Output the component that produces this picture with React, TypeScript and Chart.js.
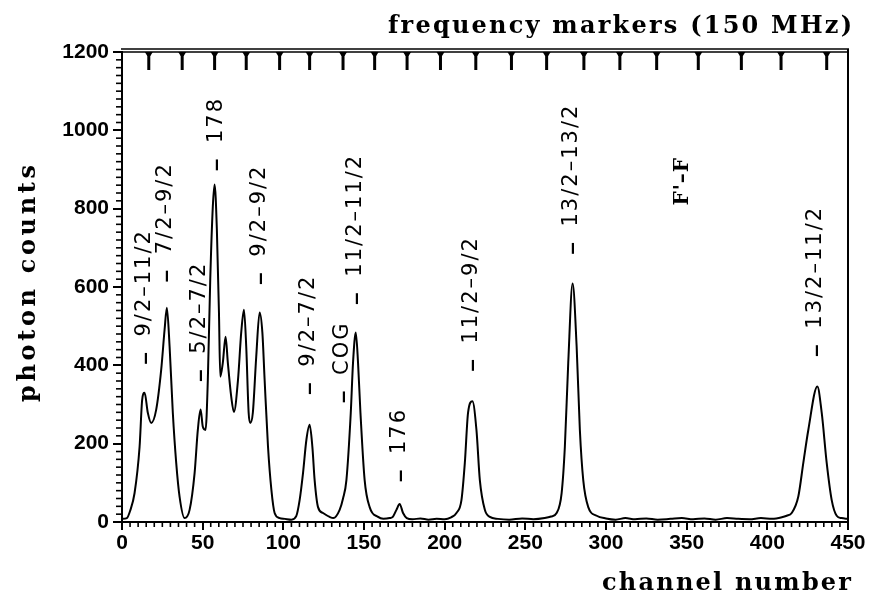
import React, { useEffect, useRef } from "react";
import { Chart, registerables } from "chart.js";

Chart.register(...registerables);

// ---- data ----
const channels = [
  0, 3, 5, 7.8, 10.9, 12.5, 14.0, 16.0, 18.1, 21.2, 24.3, 26.4, 27.8, 29.5, 31.5, 33.6, 35.7, 38.8,
  41.9, 45.0, 47.0, 48.7, 50.1, 51.8, 53.2, 54.7, 56.3, 57.4, 58.8, 60.1, 60.9, 62.5, 64.2, 65.6,
  67.7, 69.4, 71.9, 73.9, 75.6, 77.0, 78.5, 79.5, 81.1, 83.2, 85.3, 87.0, 88.4, 90.5, 92.6, 94.6,
  97.7, 101, 105, 108, 110.1, 112.2, 114.3, 116.3, 118.0, 119.4, 121.5, 124.6, 128.7, 131, 134.9,
  137, 139.1, 141.8, 143.2, 144.9, 146.3, 147.8, 150.4, 153.5, 158.7, 162, 165.9, 168, 170.1, 172.1,
  174.2, 176.5, 180, 185, 190, 195, 200, 204, 207.3, 210.4, 212.5, 214.5, 217.2, 219.7, 221.8, 224.9,
  228, 233, 240, 248, 255, 262, 266, 269.4, 272.5, 274.5, 276.6, 279.3, 281.8, 283.8, 285.9, 289.0,
  294.2, 300, 306, 312, 318, 325, 332, 340, 347, 354, 361, 368, 375, 382, 389, 396, 403, 409, 412,
  415.1, 419.2, 422.3, 425.4, 431.0, 433.7, 436.8, 439.9, 443.0, 446, 450,
];
const counts = [
  8, 10, 28, 74, 192, 312, 330, 279, 253, 287, 389, 491, 547, 448, 279, 151, 64, 10,
  31, 125, 235, 287, 243, 235, 363, 619, 806, 862, 747, 535, 371, 407, 473, 407,
  320, 281, 363, 484, 542, 448, 279, 253, 279, 422, 535, 484, 363, 192, 82, 23,
  10, 8, 6, 15, 56, 125, 210, 248, 192, 107, 38, 23, 13, 10, 31,
  60, 107, 279, 407, 484, 407, 279, 107, 38, 13, 8, 10, 14, 31, 46,
  23, 10, 7, 9, 6, 8, 7, 12, 23, 56, 151, 279, 308, 235, 107, 31,
  13, 8, 6, 9, 7, 10, 14, 23, 74, 192, 407, 609, 448, 235, 107, 38,
  16, 9, 6, 10, 7, 9, 6, 8, 10, 7, 9, 6, 10, 8, 7, 10, 8, 12, 16,
  23, 65, 151, 235, 346, 279, 151, 56, 16, 10, 8,
];

// frequency marker positions (channel numbers), 150 MHz apart
const markerChannels = [
  16.6, 37.3, 57.4, 77.0, 97.7, 116.3, 137.0, 156.6, 176.7, 197.4,
  219.3, 241.4, 263.2, 286.3, 308.6, 331.4, 357.2, 383.9, 408.5, 436.8,
];

// peak annotations
const peakLabels = [
  "9/2–11/2", "7/2–9/2", "5/2–7/2", "178", "9/2–9/2", "9/2–7/2", "COG",
  "11/2–11/2", "176", "11/2–9/2", "13/2–13/2", "13/2–11/2",
];
const labelChannels = [14.0, 27.0, 48.1, 58.4, 85.3, 115.7, 136.8, 144.8, 172.1, 216.6, 278.8, 430.0];
const labelCounts = [402, 612, 358, 896, 606, 325, 304, 555, 102, 384, 683, 422];

const ffLabel = "F'–F";
const ffChannel = 347.7;
const ffCount = 870;

const xTicksStep = 50;
const yTicksStep = 200;
const topTitle = "frequency markers (150 MHz)";
const xTitle = "channel number";
const yTitle = "photon counts";

function fitText(ctx: CanvasRenderingContext2D, text: string, target: number) {
  ctx.letterSpacing = "0px";
  const w = ctx.measureText(text).width;
  const ls = (target - w) / Math.max(1, text.length - 1);
  ctx.letterSpacing = ls + "px";
}

const decor = {
  id: "decor",
  afterDraw(chart: any) {
    const ctx: CanvasRenderingContext2D = chart.ctx;
    const a = chart.chartArea;
    const xs = chart.scales.x;
    const ys = chart.scales.y;
    ctx.save();
    ctx.strokeStyle = "#000";
    ctx.fillStyle = "#000";
    ctx.lineCap = "butt";

    const line = (x1: number, y1: number, x2: number, y2: number) => {
      ctx.beginPath();
      ctx.moveTo(x1, y1);
      ctx.lineTo(x2, y2);
      ctx.stroke();
    };

    // frame: right side and double top line
    ctx.lineWidth = 2;
    line(a.right, a.top - 3, a.right, a.bottom);
    ctx.lineWidth = 1.6;
    line(a.left - 1, a.top - 3, a.right + 1, a.top - 3);
    line(a.left - 1, a.top, a.right + 1, a.top);

    // minor ticks
    ctx.lineWidth = 1.6;
    for (let v = 0; v <= 1200; v += 20) {
      if (v % yTicksStep === 0) continue;
      const py = ys.getPixelForValue(v);
      line(a.left - 6, py, a.left, py);
    }
    for (let c = 0; c <= 450; c += 5) {
      if (c % xTicksStep === 0) continue;
      const px = xs.getPixelForValue(c);
      line(px, a.bottom, px, a.bottom + 5);
    }

    // frequency markers hanging from the top
    for (const m of markerChannels) {
      const px = xs.getPixelForValue(m);
      ctx.fillRect(px - 1.5, a.top, 3, 18);
      ctx.beginPath();
      ctx.moveTo(px - 4, a.top);
      ctx.lineTo(px + 4, a.top);
      ctx.lineTo(px + 1.5, a.top + 4);
      ctx.lineTo(px - 1.5, a.top + 4);
      ctx.closePath();
      ctx.fill();
    }

    // peak labels (rotated)
    ctx.textBaseline = "middle";
    ctx.textAlign = "left";
    for (let i = 0; i < peakLabels.length; i++) {
      const px = xs.getPixelForValue(labelChannels[i]);
      const py = ys.getPixelForValue(labelCounts[i]);
      ctx.save();
      ctx.translate(px, py);
      ctx.rotate(-Math.PI / 2);
      ctx.letterSpacing = "0px";
      ctx.font = 'bold 22px "Liberation Sans"';
      ctx.fillText("–", 0, 1);
      ctx.font = '21px "DejaVu Sans"';
      ctx.letterSpacing = "2px";
      ctx.fillText(peakLabels[i], 28, 0);
      ctx.restore();
    }

    // F'-F label
    {
      const px = xs.getPixelForValue(ffChannel);
      const py = ys.getPixelForValue(ffCount);
      ctx.save();
      ctx.translate(px, py);
      ctx.rotate(-Math.PI / 2);
      ctx.font = 'bold 20px "DejaVu Serif"';
      ctx.textAlign = "center";
      ctx.letterSpacing = "1px";
      ctx.fillText(ffLabel, 0, 0);
      ctx.restore();
    }

    // axis titles
    ctx.font = 'bold 24px "DejaVu Serif"';
    ctx.textBaseline = "alphabetic";
    ctx.textAlign = "left";

    fitText(ctx, topTitle, 464);
    ctx.fillText(topTitle, 388, 33);

    fitText(ctx, xTitle, 249);
    ctx.fillText(xTitle, 602, 590);

    ctx.save();
    ctx.translate(35, 402);
    ctx.rotate(-Math.PI / 2);
    fitText(ctx, yTitle, 237);
    ctx.fillText(yTitle, 0, 0);
    ctx.restore();

    ctx.restore();
  },
};

export default function App() {
  const ref = useRef<HTMLCanvasElement | null>(null);

  useEffect(() => {
    if (!ref.current) return;
    const tickFont = { family: '"Liberation Sans"', size: 21, weight: "bold" as const };
    const chart = new Chart(ref.current, {
      type: "scatter",
      data: {
        datasets: [
          {
            data: channels.map((c, i) => ({ x: c, y: counts[i] })),
            showLine: true,
            borderColor: "#000",
            borderWidth: 2,
            pointRadius: 0,
            cubicInterpolationMode: "monotone",
            fill: false,
          } as any,
        ],
      },
      options: {
        animation: false,
        responsive: false,
        devicePixelRatio: 1,
        layout: { autoPadding: false, padding: { left: 0, right: 25, top: 52, bottom: 0 } } as any,
        plugins: { legend: { display: false }, tooltip: { enabled: false } },
        scales: {
          x: {
            type: "linear",
            min: 0,
            max: 450,
            ticks: {
              stepSize: xTicksStep,
              color: "#000",
              font: tickFont,
              padding: 1,
              maxRotation: 0,
              autoSkip: false,
              callback: (v: any) => String(v),
            },
            grid: { drawOnChartArea: false, color: "#000", lineWidth: 2, tickLength: 8 },
            border: { color: "#000", width: 2 },
            afterFit(s: any) {
              s.height = 74;
            },
          },
          y: {
            type: "linear",
            min: 0,
            max: 1200,
            ticks: { stepSize: yTicksStep, color: "#000", font: tickFont, padding: 4, callback: (v: any) => String(v) },
            grid: { drawOnChartArea: false, color: "#000", lineWidth: 2, tickLength: 9 },
            border: { color: "#000", width: 2 },
            afterFit(s: any) {
              s.width = 122;
            },
          },
        },
      },
      plugins: [decor],
    });
    return () => chart.destroy();
  }, []);

  return (
    <div style={{ position: "absolute", left: 0, top: 0, width: 873, height: 596, background: "#fff" }}>
      <canvas ref={ref} width={873} height={596} style={{ display: "block", width: 873, height: 596 }} />
    </div>
  );
}
